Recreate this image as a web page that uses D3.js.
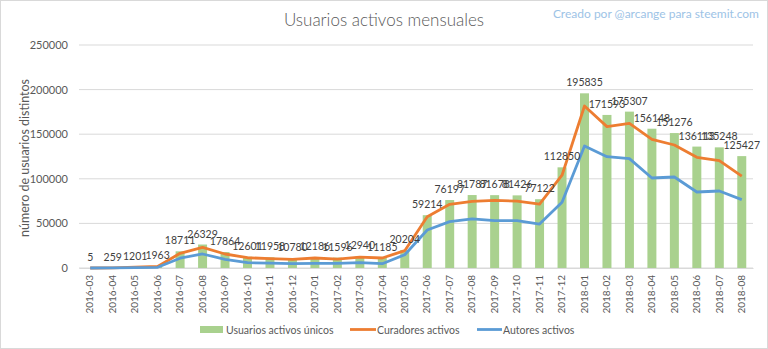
<!DOCTYPE html>
<html><head><meta charset="utf-8">
<script src="https://cdnjs.cloudflare.com/ajax/libs/d3/7.8.5/d3.min.js"></script>
<style>body{margin:0;background:#fff;} text{font-family:Lato,"Open Sans",sans-serif;}</style>
</head><body><svg id="c" width="768" height="349"></svg>
<script>
const months = ["2016-03","2016-04","2016-05","2016-06","2016-07","2016-08","2016-09","2016-10","2016-11","2016-12","2017-01","2017-02","2017-03","2017-04","2017-05","2017-06","2017-07","2017-08","2017-09","2017-10","2017-11","2017-12","2018-01","2018-02","2018-03","2018-04","2018-05","2018-06","2018-07","2018-08"];
const usuariosUnicos = [5,259,1201,1963,18711,26329,17864,12601,11958,10780,12186,11596,12940,11185,20204,59214,76197,81787,81678,81426,77122,112850,195835,171593,175307,156148,151276,136113,135248,125427];
const curadores = [0,200,1000,1700,16500,23200,15700,11500,10500,9600,11200,10000,12300,11200,19400,57500,71400,74700,75800,75000,71700,104000,181600,158500,162200,144300,137900,124100,120300,103100];
const autores = [0,100,500,800,11000,15700,9700,6000,5500,4900,5200,5200,6000,4800,14900,42600,52000,55000,53000,53000,49300,73600,136800,124800,122600,100900,102000,85200,86300,76700];
const yTicks = [0,50000,100000,150000,200000,250000];

const svg = d3.select("#c");
svg.append("rect").attr("x",0.5).attr("y",0.5).attr("width",767).attr("height",348).attr("fill","#fff").attr("stroke","#d9d9d9");

const L=79, R=753, T=45, B=268;
const x = d3.scaleBand().domain(months).range([L,R]).paddingInner(0.6).paddingOuter(0.3);
const xc = d => x(d)+x.bandwidth()/2;
const y = d3.scaleLinear().domain([0,250000]).range([B,T]);

svg.append("g").selectAll("line").data(yTicks).join("line")
  .attr("x1",L).attr("x2",R).attr("y1",d=>y(d)).attr("y2",d=>y(d))
  .attr("stroke","#d9d9d9").attr("stroke-width",1);

const ya = svg.append("g").attr("transform",`translate(${L},0)`).call(d3.axisLeft(y).tickValues(yTicks).tickSize(0).tickPadding(11).tickFormat(d3.format("d")));
ya.select(".domain").remove();
ya.selectAll("text").attr("font-size",11).attr("fill","#595959").style("font-family","Lato,sans-serif");

svg.append("g").selectAll("rect").data(usuariosUnicos).join("rect")
  .attr("x",(d,i)=>x(months[i])).attr("width",x.bandwidth())
  .attr("y",d=>y(d)).attr("height",d=>B-y(d)).attr("fill","#a9d18e");

const xa = svg.append("g").attr("transform",`translate(0,${B})`).call(d3.axisBottom(x).tickSize(0).tickPadding(6));
xa.select(".domain").attr("stroke","#d9d9d9");
xa.selectAll("text").attr("font-size",10).attr("fill","#595959").style("font-family","Lato,sans-serif")
  .attr("transform","rotate(-90)").attr("text-anchor","end").attr("y",0).attr("x",-7)
  .attr("dy","0.32em");

const line = d3.line().x((d,i)=>xc(months[i])).y(d=>y(d));
svg.append("path").datum(curadores).attr("d",line).attr("fill","none").attr("stroke","#ed7d31").attr("stroke-width",2.8).attr("stroke-linejoin","round");
svg.append("path").datum(autores).attr("d",line).attr("fill","none").attr("stroke","#5b9bd5").attr("stroke-width",2.8).attr("stroke-linejoin","round");

svg.append("g").selectAll("text").data(usuariosUnicos).join("text")
  .attr("x",(d,i)=>xc(months[i])).attr("y",d=>y(d)-7)
  .attr("text-anchor","middle").attr("font-size",10.5).attr("fill","#404040").text(d=>d);

svg.append("text").attr("x",384).attr("y",26).attr("text-anchor","middle").attr("font-size",17).attr("font-weight",300).attr("fill","#595959").text("Usuarios activos mensuales");
svg.append("text").attr("x",759).attr("y",18).attr("text-anchor","end").attr("font-size",12).attr("fill","#9dc3e6").text("Creado por @arcange para steemit.com");

svg.append("text").attr("transform","translate(29,158) rotate(-90)").attr("text-anchor","middle").attr("font-size",12.5).attr("fill","#595959").text("número de usuarios distintos");

const lg = svg.append("g");
lg.append("rect").attr("x",200).attr("y",326).attr("width",23).attr("height",7).attr("fill","#a9d18e");
lg.append("text").attr("x",226).attr("y",333.5).attr("font-size",10.5).attr("fill","#595959").text("Usuarios activos únicos");
lg.append("line").attr("x1",350).attr("x2",376).attr("y1",329.5).attr("y2",329.5).attr("stroke","#ed7d31").attr("stroke-width",2.8);
lg.append("text").attr("x",377).attr("y",333.5).attr("font-size",10.5).attr("fill","#595959").text("Curadores activos");
lg.append("line").attr("x1",477).attr("x2",502).attr("y1",329.5).attr("y2",329.5).attr("stroke","#5b9bd5").attr("stroke-width",2.8);
lg.append("text").attr("x",503).attr("y",333.5).attr("font-size",10.5).attr("fill","#595959").text("Autores activos");
</script></body></html>
